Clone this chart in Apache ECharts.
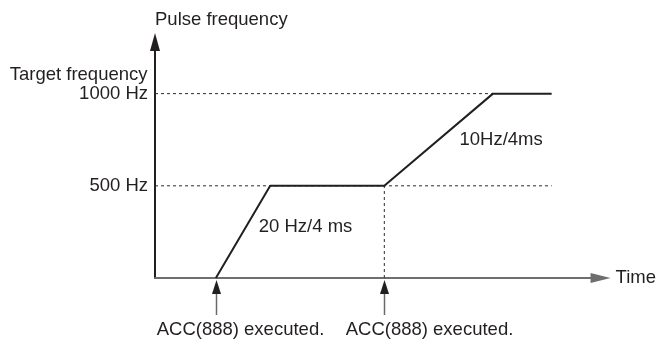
<!DOCTYPE html>
<html>
<head>
<meta charset="utf-8">
<script src="https://cdn.jsdelivr.net/npm/echarts@6/dist/echarts.min.js"></script>
<style>
  html, body { margin: 0; padding: 0; background: #fff; }
  #chart { width: 659px; height: 341px; }
</style>
</head>
<body>
<div id="chart"></div>
<script>
// Pulse output profile: time in ms, frequency in Hz
const profileTime = [112, 212, 422, 622, 730];
const profileFreq = [0, 500, 500, 1000, 1000];

// Reference levels shown as dashed guides
const levelFreq = [500, 1000];
const levelEnd = [730, 622];
const levelLabels = ['500 Hz', '1000 Hz'];
const targetLabel = 'Target frequency';

// Moments when the instruction runs
const eventTime = [112, 422];
const eventLabels = ['ACC(888) executed.', 'ACC(888) executed.'];

// Acceleration rates for the two ramps
const rateLabels = ['20 Hz/4 ms', '10Hz/4ms'];
const ratePos = [[277, 276], [637, 748]];

const FONT = '"Liberation Sans", Arial, Helvetica, sans-serif';
const FS = 18.5;
const INK = '#231f20';
const eventLabelShift = [24, 45];

const chart = echarts.init(document.getElementById('chart'), null, { renderer: 'canvas' });

const profileData = profileTime.map((t, i) => [t, profileFreq[i]]);

// invisible anchor used for free-standing text
const textAnchor = { symbol: 'rect', symbolSize: 1, itemStyle: { color: 'rgba(0,0,0,0)' } };

const guideSeries = levelFreq.map((f, i) => ({
  type: 'line',
  silent: true,
  symbol: 'none',
  z: 1,
  lineStyle: { color: '#2e2e2e', width: 1, type: [3, 3] },
  data: [[0, f], [levelEnd[i], f]],
  markPoint: i === 1 ? Object.assign({}, textAnchor, {
    data: [{
      coord: [0, f],
      label: { show: true, position: 'left', distance: 7, offset: [0, -19], formatter: targetLabel,
        fontFamily: FONT, fontSize: FS, color: INK }
    }]
  }) : undefined
}));

chart.setOption({
  animation: false,
  grid: { left: 155, right: 57, top: 42, bottom: 63 },
  xAxis: {
    type: 'value', min: 0, max: 820,
    name: 'Time', nameLocation: 'end', nameGap: 15,
    nameTextStyle: { fontFamily: FONT, fontSize: FS, color: INK, verticalAlign: 'middle' },
    axisLine: { lineStyle: { color: '#6e6e6e', width: 2 }, symbol: ['none', 'triangle'], symbolSize: [10, 20] },
    axisTick: { show: false }, axisLabel: { show: false }, splitLine: { show: false }
  },
  yAxis: {
    type: 'value', min: 0, max: 1280,
    name: 'Pulse frequency', nameLocation: 'end', nameGap: 22,
    nameTextStyle: { fontFamily: FONT, fontSize: FS, color: INK, align: 'left', verticalAlign: 'middle' },
    axisLine: { lineStyle: { color: INK, width: 2 }, symbol: ['none', 'triangle'], symbolSize: [10, 18] },
    axisTick: { show: false },
    axisLabel: {
      customValues: levelFreq,
      formatter: v => levelLabels[levelFreq.indexOf(v)],
      fontFamily: FONT, fontSize: FS, color: INK, margin: 7
    },
    splitLine: { show: false }
  },
  series: [
    ...guideSeries,
    {
      // vertical guide from the second execution point
      type: 'line', silent: true, symbol: 'none', z: 1,
      lineStyle: { color: '#2e2e2e', width: 1, type: [3, 3] },
      data: [[eventTime[1], 0], [eventTime[1], profileFreq[2]]]
    },
    {
      type: 'line', silent: true, symbol: 'none', z: 3,
      lineStyle: { color: INK, width: 2 },
      data: profileData,
      markPoint: Object.assign({}, textAnchor, {
        data: rateLabels.map((txt, i) => ({
          coord: ratePos[i],
          label: { show: true, formatter: txt, fontFamily: FONT, fontSize: FS, color: INK, position: 'inside' }
        }))
      })
    },
    {
      // upward arrows with captions beneath the time axis
      type: 'custom', silent: true, z: 4,
      data: eventTime.map(t => [t, 0]),
      renderItem: (params, api) => {
        const p = api.coord([api.value(0), api.value(1)]);
        const x = Math.round(p[0]) + 0.5, y = p[1];
        return {
          type: 'group',
          children: [
            { type: 'line', shape: { x1: x, y1: y + 14, x2: x, y2: y + 37 },
              style: { stroke: '#6a6a6a', lineWidth: 1.5 } },
            { type: 'polygon', shape: { points: [[x, y + 2], [x - 4.5, y + 16], [x + 4.5, y + 16]] },
              style: { fill: INK } },
            { type: 'text', x: x + eventLabelShift[params.dataIndex], y: y + 52,
              style: { text: eventLabels[params.dataIndex], font: FS + 'px ' + FONT, fill: INK,
                align: 'center', verticalAlign: 'middle' } }
          ]
        };
      }
    }
  ]
});
</script>
</body>
</html>
